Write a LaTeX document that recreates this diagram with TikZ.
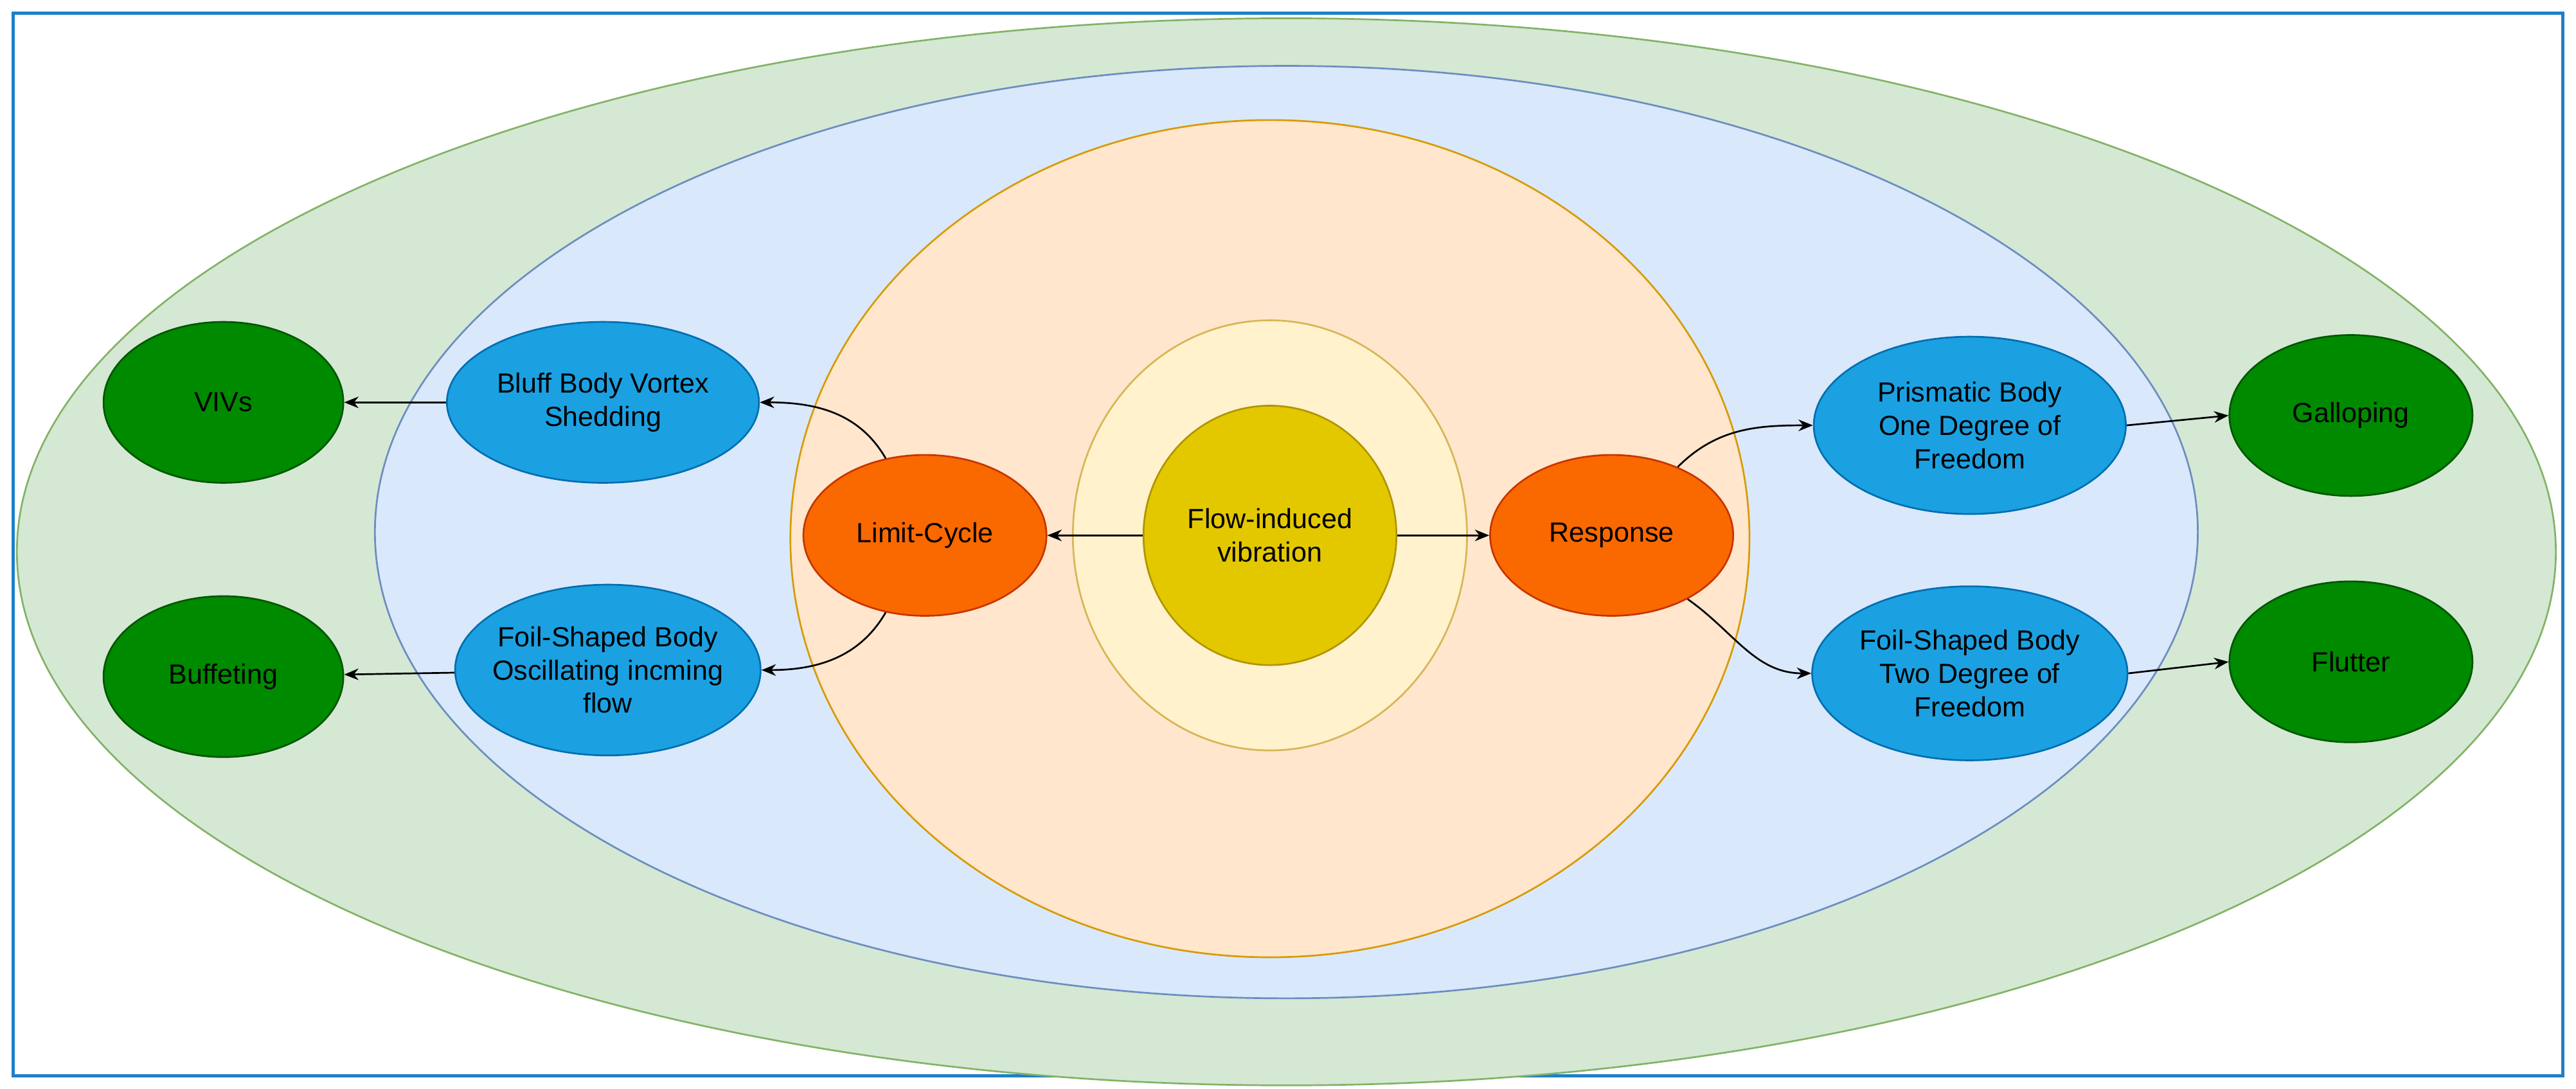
\documentclass[tikz,border=0pt]{standalone}
\usepackage{fontspec}
\setmainfont{Liberation Sans}
\usetikzlibrary{shapes.geometric,arrows.meta}
\definecolor{gF}{HTML}{D5E8D4}\definecolor{gD}{HTML}{82B366}
\definecolor{bF}{HTML}{DAE8FC}\definecolor{bD}{HTML}{6C8EBF}
\definecolor{oF}{HTML}{FFE6CC}\definecolor{oD}{HTML}{D79B00}
\definecolor{yF}{HTML}{FFF2CC}\definecolor{yD}{HTML}{D6B656}
\definecolor{cF}{HTML}{E3C800}\definecolor{cD}{HTML}{B09500}
\definecolor{rF}{HTML}{FA6800}\definecolor{rD}{HTML}{C73500}
\definecolor{lF}{HTML}{1BA1E2}\definecolor{lD}{HTML}{006EAF}
\definecolor{nF}{HTML}{008A00}\definecolor{nD}{HTML}{005700}
\definecolor{frame}{HTML}{1F7FC8}
\tikzset{
 el/.style n args={2}{ellipse,inner sep=-6pt,minimum width=#1*0.04cm,minimum height=#2*0.04cm,line width=0.6pt,align=center,font=\fontsize{9.6}{11.5}\selectfont},
 big/.style n args={4}{el={#1}{#2},fill=#3,draw=#4},
 arr/.style={-{Stealth[length=5pt,width=4pt]},line width=0.6pt}
}
\begin{document}
\begin{tikzpicture}[x=0.02cm,y=-0.02cm]
\useasboundingbox (0,0) rectangle (1568,663);
\draw[frame,line width=1.2pt] (8,8) rectangle (1560,655);
\node[big={773}{325}{gF}{gD}] (g) at (783,336) {};
\node[big={555}{284}{bF}{bD}] (b) at (783,324) {};
\node[big={292}{255}{oF}{oD}] (o) at (773,328) {};
\node[big={120}{131}{yF}{yD}] (y) at (773,326) {};
\node[big={77}{79}{cF}{cD}] (fiv) at (773,326) {Flow-induced\\vibration};
\node[big={74}{49}{rF}{rD}] (lc) at (563,326) {Limit-Cycle};
\node[big={74}{49}{rF}{rD}] (resp) at (981,326) {Response};
\node[big={95}{49}{lF}{lD}] (bluff) at (367,245) {Bluff Body Vortex\\Shedding};
\node[big={93}{52}{lF}{lD}] (foilL) at (370,408) {Foil-Shaped Body\\Oscillating incming\\flow};
\node[big={95}{54}{lF}{lD}] (prism) at (1199,259) {Prismatic Body\\One Degree of\\Freedom};
\node[big={96}{53}{lF}{lD}] (foilR) at (1199,410) {Foil-Shaped Body\\Two Degree of\\Freedom};
\node[big={73}{49}{nF}{nD}] (viv) at (136,245) {VIVs};
\node[big={73}{49}{nF}{nD}] (buff) at (136,412) {Buffeting};
\node[big={74}{49}{nF}{nD}] (gal) at (1431,253) {Galloping};
\node[big={74}{49}{nF}{nD}] (flut) at (1431,403) {Flutter};
\draw[arr] (fiv) -- (lc);
\draw[arr] (fiv) -- (resp);
\draw[arr] (lc.117) to[out=120,in=0] (bluff.east);
\draw[arr] (lc.243) to[out=-120,in=0] (foilL.east);
\draw[arr] (resp.46) to[out=45,in=180] (prism.west);
\draw[arr] (resp.-40) to[out=-35,in=180] (foilR.west);
\draw[arr] (bluff) -- (viv);
\draw[arr] (foilL) -- (buff);
\draw[arr] (prism.east) -- (gal.west);
\draw[arr] (foilR.east) -- (flut.west);
\end{tikzpicture}
\end{document}
